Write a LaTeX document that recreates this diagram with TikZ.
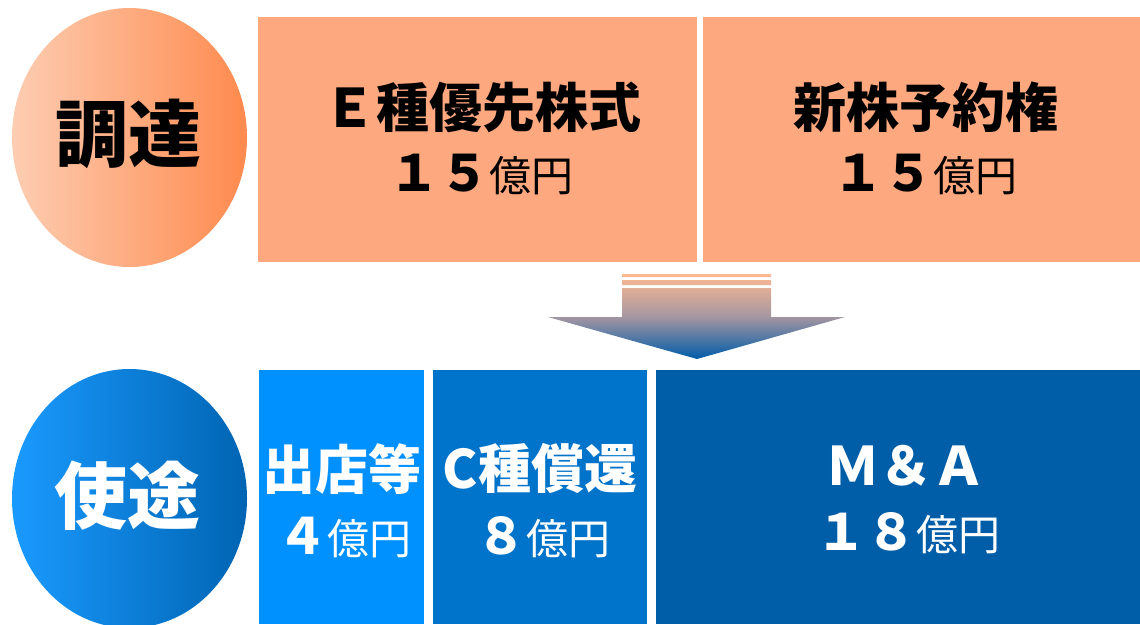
\documentclass[tikz,border=0pt]{standalone}
\usepackage{fontspec}
\setmainfont{Noto Sans CJK JP}
\usetikzlibrary{shapes.geometric}
\definecolor{obox}{RGB}{253,168,127}
\definecolor{ocl}{RGB}{253,205,178}
\definecolor{ocr}{RGB}{254,138,78}
\definecolor{bcl}{RGB}{26,154,255}
\definecolor{bcr}{RGB}{0,100,178}
\definecolor{bA}{RGB}{0,145,255}
\definecolor{bB}{RGB}{0,115,202}
\definecolor{bC}{RGB}{0,94,168}
\definecolor{arTop}{RGB}{255,186,146}
\definecolor{arMid}{RGB}{165,150,160}
\definecolor{arBot}{RGB}{0,92,170}
\tikzset{
  boxo/.style={rectangle, fill=obox, draw=none, inner sep=0pt},
  boxb/.style={rectangle, draw=none, inner sep=0pt},
  circo/.style={ellipse, draw=none, inner sep=0pt, minimum width=235pt, minimum height=259pt, left color=ocl, right color=ocr},
  circb/.style={ellipse, draw=none, inner sep=0pt, minimum width=235pt, minimum height=259pt, left color=bcl, right color=bcr},
  big/.style={font=\fontsize{73}{80}\selectfont\bfseries, inner sep=0pt},
  ttl/.style={font=\fontsize{53}{60}\selectfont\bfseries, inner sep=0pt},
  amt/.style={inner sep=0pt},
}
\newcommand{\dg}[1]{{\fontsize{50}{60}\selectfont\bfseries #1}}
\newcommand{\ok}{{\fontsize{42}{60}\selectfont 億円}}
\begin{document}
\begin{tikzpicture}[x=1pt,y=-1pt]
\useasboundingbox (0,0) rectangle (1140,624);
% top row
\node[circo] (cTop) at (129.5,137.5) {};
\node[big, text=black] (tTop) at (128,134) {調達};
\node[boxo, minimum width=439pt, minimum height=245pt] (bE) at (477.5,139.5) {};
\node[boxo, minimum width=437pt, minimum height=245pt] (bS) at (921.5,139.5) {};
\node[ttl] (tE) at (482,107) {Ｅ種優先株式};
\node[amt] (aE) at (481,174) {\dg{１５}\ok};
\node[ttl] (tS) at (926,107) {新株予約権};
\node[amt] (aS) at (925,174) {\dg{１５}\ok};
% arrow
\shade[top color=arTop, bottom color=arBot, middle color=arMid]
  (622,274) rectangle (771,277)
  (622,280) rectangle (771,285)
  (622,288) -- (771,288) -- (771,317) -- (845,317) -- (697,359) -- (548,317) -- (622,317) -- cycle;
\coordinate (arrowTip) at (697,359);
% bottom row
\node[circb] (cBot) at (129.5,498.5) {};
\node[big, text=white] (tBot) at (127,496) {使途};
\node[boxb, fill=bA, minimum width=165pt, minimum height=254pt] (b1) at (341.5,497) {};
\node[boxb, fill=bB, minimum width=214pt, minimum height=254pt] (b2) at (540,497) {};
\node[boxb, fill=bC, minimum width=484pt, minimum height=254pt] (b3) at (898,497) {};
\node[ttl, text=white] (t1) at (341.5,469) {出店等};
\node[amt, text=white] (a1) at (344,537) {\dg{４}\ok};
\node[ttl, text=white] (t2) at (540,469) {C種償還};
\node[amt, text=white] (a2) at (543,537) {\dg{８}\ok};
\node[ttl, text=white] (t3) at (906,466) {Ｍ＆Ａ};
\node[amt, text=white] (a3) at (908,533) {\dg{１８}\ok};
\end{tikzpicture}
\end{document}
